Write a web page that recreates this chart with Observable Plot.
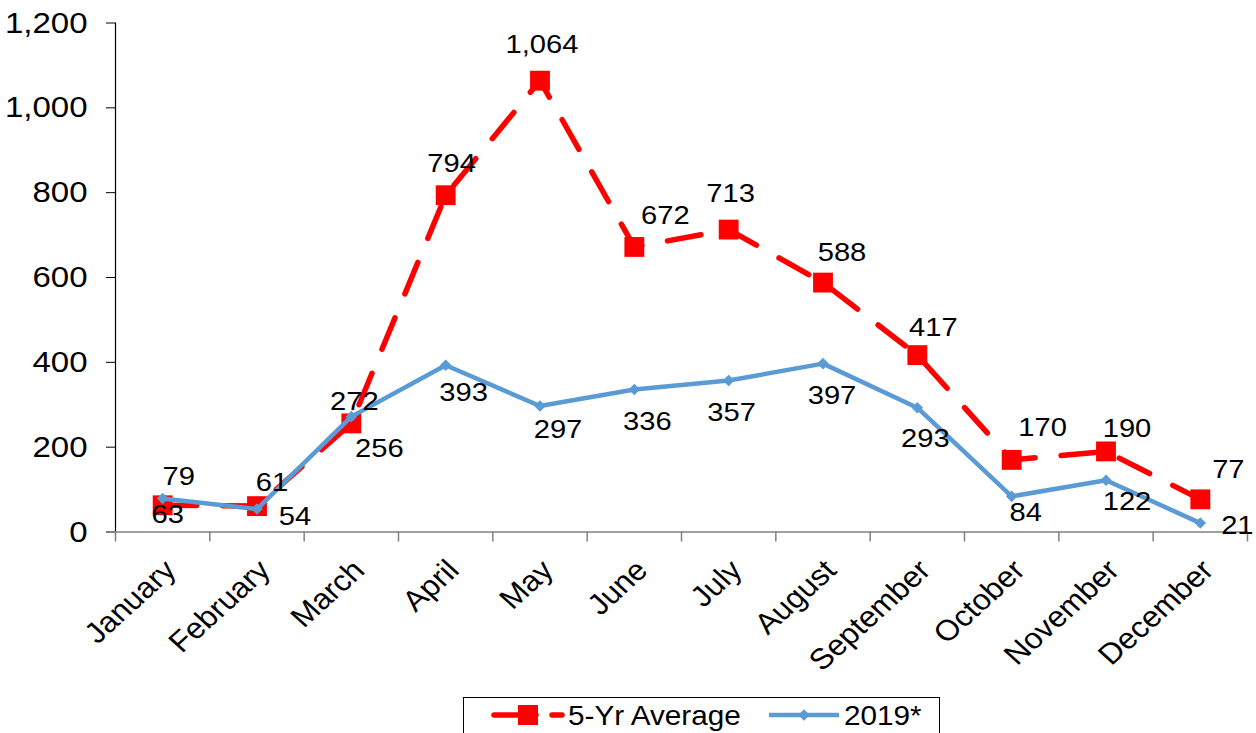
<!DOCTYPE html>
<html>
<head>
<meta charset="utf-8">
<script src="https://cdn.jsdelivr.net/npm/d3@7"></script>
<script src="https://cdn.jsdelivr.net/npm/@observablehq/plot@0.6"></script>
<style>
  html, body { margin: 0; padding: 0; background: #fff; overflow: hidden; }
  body { width: 1256px; height: 733px; font-family: "Liberation Sans", Arial, sans-serif; }
  #legend { margin-left: 463px; margin-top: 5px; width: 477px; height: 50px; border: 1px solid #000; box-sizing: border-box; }
  #legend svg { display: block; }
</style>
</head>
<body>
<div id="chart"></div>
<div id="legend"></div>
<script>
// ---- data ----
const months = ["January","February","March","April","May","June","July","August","September","October","November","December"];
const avg5yr = [63, 61, 256, 794, 1064, 672, 713, 588, 417, 170, 190, 77];
const y2019 = [79, 54, 272, 393, 297, 336, 357, 397, 293, 84, 122, 21];
const yTicks = [0, 200, 400, 600, 800, 1000, 1200];
const seriesNames = ["5-Yr Average", "2019*"];

// label placement offsets (pixels from the point)
const avgLabelDx = [5, 15, 28, 6, 2, 31, 2, 19, 16, 31, 21, 28];
const avgLabelDy = [9, -24, 25, -32, -36, -31, -36, -30, -28, -32, -23, -30];
const y19LabelDx = [16, 38, 3, 18, 18, 13, 3, 9, 8, 14, 21, 37];
const y19LabelDy = [-22, 7, -15, 27, 23, 32, 32, 32, 31, 16, 21, 2];

const rows = months.map((m, i) => ({i, month: m, pos: i + 0.5, avg: avg5yr[i], v2019: y2019[i]}));
const xBoundaries = d3.range(months.length + 1);

const RED = "#ff0000";
const BLUE = "#5b9bd5";
const fmt = d3.format(",");
const STRETCH = 1.1; // the source text is slightly wider than tall

const labelMarks = [];
rows.forEach((d, i) => {
  labelMarks.push(Plot.text([d], {x: "pos", y: "avg", text: r => fmt(r.avg), dx: avgLabelDx[i], dy: avgLabelDy[i], fontSize: 26.5, fill: "#000"}));
  labelMarks.push(Plot.text([d], {x: "pos", y: "v2019", text: r => fmt(r.v2019), dx: y19LabelDx[i], dy: y19LabelDy[i], fontSize: 26.5, fill: "#000"}));
});

const chart = Plot.plot({
  width: 1256,
  height: 692,
  marginLeft: 115,
  marginRight: 9,
  marginTop: 22.5,
  marginBottom: 160.5,
  style: {fontFamily: "'Liberation Sans', Arial, sans-serif", background: "#fff", color: "#000"},
  x: {domain: [0, months.length], axis: null},
  y: {domain: [0, 1200], axis: null},
  marks: [
    Plot.axisY({ticks: yTicks, tickSize: 9, tickPadding: 19, tickFormat: fmt, fontSize: 30, label: null}),
    Plot.ruleX([0], {y1: 0, y2: 1200, stroke: "#000", strokeWidth: 1.2}),
    Plot.axisX({ticks: xBoundaries, tickSize: 10, tickFormat: () => "", label: null, stroke: "#808080", strokeWidth: 1.5}),
    Plot.ruleY([0], {stroke: "#808080", strokeWidth: 1.5}),
    Plot.text(rows, {x: "pos", frameAnchor: "bottom", text: "month", rotate: -45, textAnchor: "end", lineAnchor: "bottom", dx: 15, dy: 40, fontSize: 29, fill: "#000"}),
    Plot.line(rows, {x: "pos", y: "avg", stroke: RED, strokeWidth: 5.5, strokeDasharray: "34,26", strokeLinecap: "round", strokeLinejoin: "round"}),
    Plot.dot(rows, {x: "pos", y: "avg", symbol: "square", r: 11.2, fill: RED, stroke: "none"}),
    Plot.line(rows, {x: "pos", y: "v2019", stroke: BLUE, strokeWidth: 4.5, strokeLinejoin: "round"}),
    Plot.dot(rows, {x: "pos", y: "v2019", symbol: "diamond2", r: 5.2, fill: BLUE, stroke: "none"}),
    ...labelMarks
  ]
});
document.getElementById("chart").appendChild(chart);

// ---- legend ----
const lg = d3.select("#legend").append("svg").attr("width", 475).attr("height", 48)
  .style("font-family", "'Liberation Sans', Arial, sans-serif");
lg.append("line").attr("x1", 30).attr("x2", 98).attr("y1", 17).attr("y2", 17)
  .attr("stroke", RED).attr("stroke-width", 5.5).attr("stroke-linecap", "round").attr("stroke-dasharray", "42,16");
lg.append("rect").attr("x", 54).attr("y", 7).attr("width", 20).attr("height", 20).attr("fill", RED);
lg.append("text").attr("x", 104).attr("y", 27).attr("font-size", 27).attr("fill", "#000").text(seriesNames[0]);
lg.append("line").attr("x1", 305).attr("x2", 375).attr("y1", 17).attr("y2", 17)
  .attr("stroke", BLUE).attr("stroke-width", 4.5);
lg.append("path").attr("d", d3.symbol(d3.symbolDiamond2, 5.2 * 5.2 * Math.PI)()).attr("transform", "translate(340,17)").attr("fill", BLUE);
lg.append("text").attr("x", 380).attr("y", 27).attr("font-size", 27).attr("fill", "#000").text(seriesNames[1]);

// widen text horizontally around its anchor, like the source rendering
function stretchText(root, s) {
  root.querySelectorAll("text").forEach(t => {
    let tr = t.getAttribute("transform");
    if (tr) {
      if (tr.includes("rotate(")) tr = tr.replace("rotate(", `scale(${s},1) rotate(`);
      else tr = tr + ` scale(${s},1)`;
    } else {
      const x = parseFloat(t.getAttribute("x")) || 0;
      tr = `translate(${x},0) scale(${s},1) translate(${-x},0)`;
    }
    t.setAttribute("transform", tr);
  });
}
stretchText(chart, STRETCH);
stretchText(lg.node(), STRETCH);
</script>
</body>
</html>
